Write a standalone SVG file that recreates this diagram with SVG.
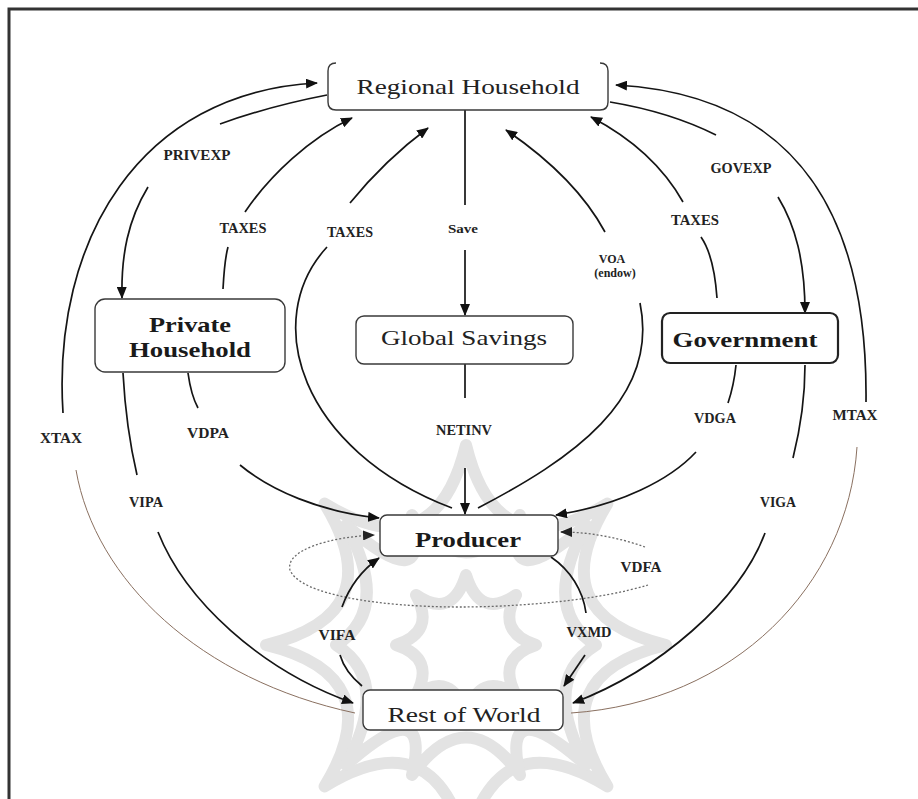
<svg xmlns="http://www.w3.org/2000/svg" width="918" height="799" viewBox="0 0 918 799">
<defs>
<style>
.box{fill:#fff;stroke:#3a3a3a;stroke-width:1.4}
.gov{fill:#fff;stroke:#222;stroke-width:2.2}
.nt{font-family:"Liberation Serif","Times New Roman",serif;font-size:22px;fill:#222}
.nb{font-family:"Liberation Serif","Times New Roman",serif;font-size:22px;font-weight:bold;fill:#1a1a1a}
.lb{font-family:"Liberation Serif","Times New Roman",serif;font-size:14px;font-weight:bold;fill:#222}
.ls{font-family:"Liberation Serif","Times New Roman",serif;font-size:12px;font-weight:bold;fill:#222}
.c{fill:none;stroke:#151515;stroke-width:1.7}
.a{fill:none;stroke:#151515;stroke-width:1.7;marker-end:url(#ah)}
.t{fill:none;stroke:#8a7060;stroke-width:1}
.da{fill:none;stroke:#6a6a6a;stroke-width:1.3;stroke-dasharray:2,2;marker-end:url(#ahd)}
.wm{fill:none;stroke:#e3e3e3;stroke-width:12;stroke-linejoin:round}
</style>
<marker id="ah" viewBox="0 0 12 10" refX="11" refY="5" markerWidth="12" markerHeight="10" markerUnits="userSpaceOnUse" orient="auto">
<path d="M0,0 L12,5 L0,10 Z" fill="#111"/>
</marker>
<marker id="ahd" viewBox="0 0 12 10" refX="11" refY="5" markerWidth="12" markerHeight="10" markerUnits="userSpaceOnUse" orient="auto">
<path d="M0,0 L12,5 L0,10 Z" fill="#222"/>
</marker>
</defs>
<rect x="0" y="0" width="918" height="799" fill="#fff"/>
<rect x="9" y="9" width="930" height="810" fill="none" stroke="#333" stroke-width="3"/>

<g id="watermark">
<path class="wm" d="M466,445 Q496.6,571.1 607.4,503.6 Q539.9,614.4 666,645 Q539.9,675.6 607.4,786.4 Q496.6,718.9 466,845 Q435.4,718.9 324.6,786.4 Q392.1,675.6 266,645 Q392.1,614.4 324.6,503.6 Q435.4,571.1 466,445 Z"/>
<path class="wm" d="M520,515 Q500,600 586,525 Q540,610 596,645 Q540,680 586,765 Q500,690 520,775 Q466,700 412,775 Q432,690 346,765 Q392,680 336,645 Q392,610 346,525 Q432,600 412,515 Q466,590 520,515 Z"/>
<path class="wm" d="M466,575 Q480,620 516,595 Q496,632 536,645 Q496,658 516,695 Q480,670 466,715 Q452,670 416,695 Q436,658 396,645 Q436,632 416,595 Q452,620 466,575 Z"/>
</g>

<g id="connectors">
<!-- XTAX -->
<path class="a" d="M63,413 C52,240 140,92 317,83"/>
<path class="t" d="M76,470 C95,580 200,680 355,713"/>
<!-- MTAX -->
<path class="a" d="M866,402 C868,220 800,95 616,85"/>
<path class="t" d="M857,447 C848,585 735,702 571,713"/>
<!-- PRIVEXP -->
<path class="c" d="M327,95 Q270,106 220,124"/>
<path class="a" d="M148,187 C128,220 121,255 122,298"/>
<!-- TAXES private -->
<path class="c" d="M223,289 C224,270 225,258 228,247"/>
<path class="a" d="M245,212 C270,175 310,138 352,118"/>
<!-- TAXES producer -->
<path class="c" d="M452,508 C300,450 260,320 327,247"/>
<path class="a" d="M350,203 Q385,160 428,128"/>
<!-- Save -->
<path class="c" d="M465,110 L465,205"/>
<path class="a" d="M465,250 L465,315"/>
<!-- NETINV -->
<path class="c" d="M465,364 L465,398"/>
<path class="a" d="M465,468 L465,514"/>
<!-- VOA -->
<path class="c" d="M478,508 C570,460 660,400 640,303"/>
<path class="a" d="M605,232 C585,195 550,160 506,130"/>
<!-- TAXES gov -->
<path class="c" d="M717,298 C715,270 710,250 701,237"/>
<path class="a" d="M683,202 C665,170 635,140 591,117"/>
<!-- GOVEXP -->
<path class="c" d="M610,102 Q670,112 716,135"/>
<path class="a" d="M778,197 C795,225 805,260 805,313"/>
<!-- VIPA -->
<path class="c" d="M123,373 C125,410 130,445 137,475"/>
<path class="a" d="M158,532 C185,600 260,670 353,703"/>
<!-- VDPA -->
<path class="c" d="M188,373 Q191,395 198,408"/>
<path class="a" d="M240,465 C270,490 320,512 379,518"/>
<!-- VDGA -->
<path class="c" d="M736,365 Q734,385 728,403"/>
<path class="a" d="M696,452 C670,480 620,505 556,515"/>
<!-- VIGA -->
<path class="c" d="M805,365 C805,400 800,430 793,458"/>
<path class="a" d="M765,533 C740,600 660,670 573,703"/>
<!-- VDFA -->
<path class="da" d="M648,585 C600,600 520,607 460,607 C380,607 300,595 290,570 C285,550 330,537 374,535"/>
<path class="da" d="M645,547 C620,538 590,532 561,532"/>
<!-- VIFA -->
<path class="c" d="M362,686 Q345,672 340,655"/>
<path class="a" d="M342,607 C350,585 362,570 379,558"/>
<!-- VXMD -->
<path class="c" d="M551,557 C570,570 583,590 586,613"/>
<path class="a" d="M585,655 L564,686"/>
</g>

<g id="labels">
<text class="lb" x="197" y="160" text-anchor="middle" textLength="67" lengthAdjust="spacingAndGlyphs">PRIVEXP</text>
<text class="lb" x="243" y="233" text-anchor="middle" textLength="47" lengthAdjust="spacingAndGlyphs">TAXES</text>
<text class="lb" x="350" y="237" text-anchor="middle" textLength="46" lengthAdjust="spacingAndGlyphs">TAXES</text>
<text class="ls" x="463" y="233" text-anchor="middle" textLength="30" lengthAdjust="spacingAndGlyphs">Save</text>
<text class="ls" x="612" y="263" text-anchor="middle">VOA</text>
<text class="ls" x="615" y="277" text-anchor="middle">(endow)</text>
<text class="lb" x="695" y="225" text-anchor="middle" textLength="48" lengthAdjust="spacingAndGlyphs">TAXES</text>
<text class="lb" x="741" y="173" text-anchor="middle" textLength="61" lengthAdjust="spacingAndGlyphs">GOVEXP</text>
<text class="lb" x="464" y="435" text-anchor="middle" textLength="56" lengthAdjust="spacingAndGlyphs">NETINV</text>
<text class="lb" x="61" y="443" text-anchor="middle" textLength="42" lengthAdjust="spacingAndGlyphs">XTAX</text>
<text class="lb" x="208" y="438" text-anchor="middle" textLength="42" lengthAdjust="spacingAndGlyphs">VDPA</text>
<text class="lb" x="146" y="507" text-anchor="middle" textLength="34" lengthAdjust="spacingAndGlyphs">VIPA</text>
<text class="lb" x="715" y="423" text-anchor="middle" textLength="42" lengthAdjust="spacingAndGlyphs">VDGA</text>
<text class="lb" x="855" y="420" text-anchor="middle" textLength="45" lengthAdjust="spacingAndGlyphs">MTAX</text>
<text class="lb" x="778" y="507" text-anchor="middle" textLength="36" lengthAdjust="spacingAndGlyphs">VIGA</text>
<text class="lb" x="641" y="572" text-anchor="middle" textLength="41" lengthAdjust="spacingAndGlyphs">VDFA</text>
<text class="lb" x="589" y="637" text-anchor="middle" textLength="45" lengthAdjust="spacingAndGlyphs">VXMD</text>
<text class="lb" x="337" y="640" text-anchor="middle" textLength="37" lengthAdjust="spacingAndGlyphs">VIFA</text>
</g>

<g id="regional-household">
<rect x="328" y="63" width="280" height="47" rx="8" fill="#fff"/>
<path d="M336,63 Q328,63 328,71 L328,102 Q328,110 336,110 L600,110 Q608,110 608,102 L608,71 Q608,63 600,63" fill="none" stroke="#3a3a3a" stroke-width="1.4"/>
<text class="nt" x="468" y="94" text-anchor="middle" textLength="223" lengthAdjust="spacingAndGlyphs">Regional Household</text>
</g>
<g id="private-household">
<rect class="box" x="95" y="299" width="190" height="73" rx="10"/>
<text class="nb" x="190" y="332" text-anchor="middle" textLength="82" lengthAdjust="spacingAndGlyphs">Private</text>
<text class="nb" x="190" y="357" text-anchor="middle" textLength="122" lengthAdjust="spacingAndGlyphs">Household</text>
</g>
<g id="global-savings">
<rect class="box" x="356" y="316" width="217" height="48" rx="8"/>
<text class="nt" x="464" y="345" text-anchor="middle" textLength="166" lengthAdjust="spacingAndGlyphs">Global Savings</text>
</g>
<g id="government">
<rect class="gov" x="662" y="313" width="176" height="50" rx="8"/>
<text class="nb" x="745" y="347" text-anchor="middle" textLength="145" lengthAdjust="spacingAndGlyphs">Government</text>
</g>
<g id="producer">
<rect class="box" x="380" y="515" width="178" height="41" rx="7"/>
<text class="nb" x="468" y="547" text-anchor="middle" textLength="106" lengthAdjust="spacingAndGlyphs">Producer</text>
</g>
<g id="rest-of-world">
<rect class="box" x="363" y="690" width="200" height="40" rx="7"/>
<text class="nt" x="464" y="722" text-anchor="middle" textLength="153" lengthAdjust="spacingAndGlyphs">Rest of World</text>
</g>
</svg>
